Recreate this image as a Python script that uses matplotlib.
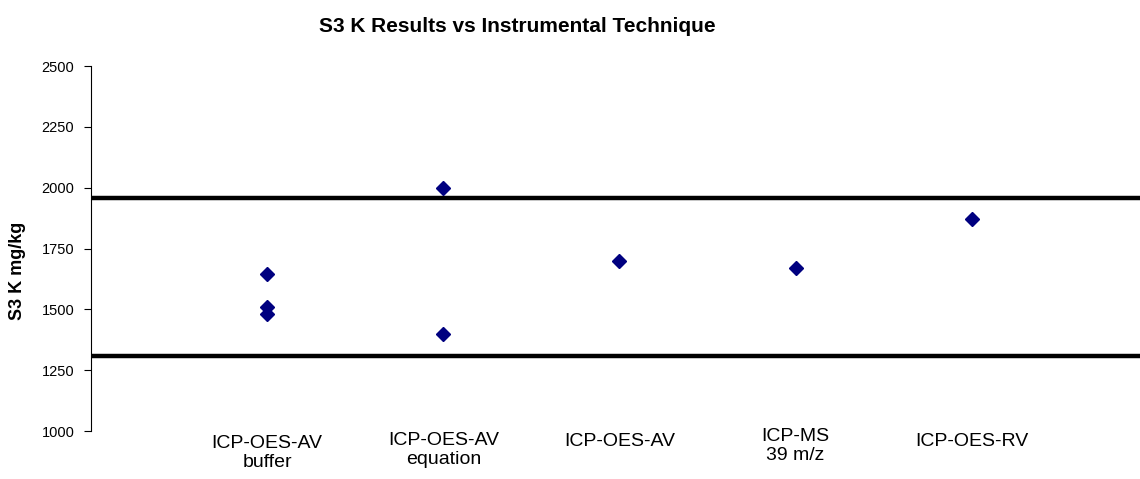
import matplotlib
matplotlib.use("Agg")
import matplotlib.pyplot as plt
import matplotlib.transforms as mtransforms

plt.rcParams['font.family'] = ['Liberation Sans', 'DejaVu Sans']

# categories (instrumental technique) and the results per technique
techniques = ["ICP-OES-AV\nbuffer", "ICP-OES-AV\nequation", "ICP-OES-AV",
              "ICP-MS\n39 m/z", "ICP-OES-RV"]
tech_pos = [1, 2, 3, 4, 5]
point_x = [1, 1, 1, 2, 2, 3, 4, 5]
point_y = [1645, 1510, 1480, 2000, 1400, 1700, 1670, 1870]

# acceptance limits
upper_limit = 1956
lower_limit = 1310

yticks = [1000, 1250, 1500, 1750, 2000, 2250, 2500]

fig = plt.figure(figsize=(11.4, 4.79), dpi=100)
ax = fig.add_axes([0.0798, 0.1002, 0.9202, 0.762])

ax.axhline(upper_limit, color="black", linewidth=3.2, zorder=2)
ax.axhline(lower_limit, color="black", linewidth=3.2, zorder=2)
ax.plot(point_x, point_y, linestyle="none", marker="D", markersize=7.5,
        color="#000080", zorder=3)

ax.set_xlim(0, 5.955)
ax.set_ylim(1000, 2500)
ax.set_yticks(yticks)
ax.tick_params(axis="y", direction="out", length=5, width=0.8,
               labelsize=10.5, pad=7)
ax.set_xticks([])
for s in ["top", "right", "bottom"]:
    ax.spines[s].set_visible(False)
ax.spines["left"].set_linewidth(0.8)

# category labels under the plot
trans = mtransforms.blended_transform_factory(ax.transData, fig.transFigure)
label_y = [453, 450, 441, 446, 441]   # pixel centres from the top
for x, lab, py in zip(tech_pos, techniques, label_y):
    ax.text(x, 1 - py / 479, lab, transform=trans, ha="center", va="center",
            fontsize=14, linespacing=1.2)

fig.text(18 / 1140, 1 - 271 / 479, "S3 K mg/kg", rotation=90, ha="center",
         va="center", fontsize=13, fontweight="bold")
fig.text(517 / 1140, 1 - 27 / 479, "S3 K Results vs Instrumental Technique",
         ha="center", va="center", fontsize=15, fontweight="bold")

fig.savefig("out.png", dpi=100)
